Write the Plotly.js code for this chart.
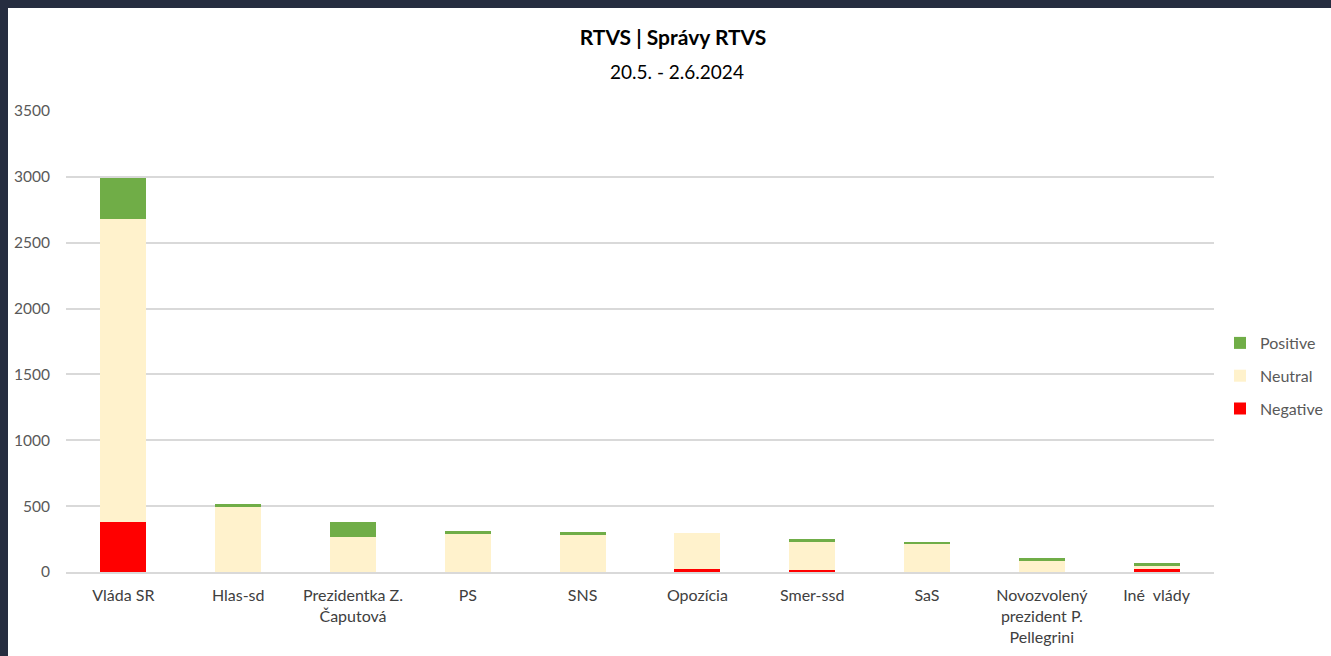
<!DOCTYPE html>
<html>
<head>
<meta charset="utf-8">
<script src="https://cdn.plot.ly/plotly-3.0.1.min.js"></script>
<style>
  html, body { margin: 0; padding: 0; background: #262d40; width: 1331px; height: 656px; overflow: hidden; }
  #chart { position: absolute; left: 8px; top: 8px; width: 1323px; height: 648px; background: #fff; }
</style>
</head>
<body>
<div id="chart"></div>
<script>
const categories = ["Vláda SR", "Hlas-sd", "Prezidentka Z.<br>Čaputová", "PS", "SNS", "Opozícia", "Smer-ssd", "SaS", "Novozvolený<br>prezident P.<br>Pellegrini", "Iné  vlády"];
const negative = [380, 0, 0, 0, 0, 24, 12, 0, 0, 25];
const neutral  = [2300, 495, 268, 290, 283, 270, 213, 215, 86, 18];
const positive = [310, 25, 110, 20, 18, 0, 23, 10, 23, 23];
const yTicks = [0, 500, 1000, 1500, 2000, 2500, 3000, 3500];

const font = "Lato, 'Open Sans', sans-serif";

const traces = [
  {name: "Negative", y: negative, color: "#ff0000", rank: 3},
  {name: "Neutral", y: neutral, color: "#fff2cc", rank: 2},
  {name: "Positive", y: positive, color: "#70ad47", rank: 1}
].map(t => ({
  type: "bar", x: categories, y: t.y, name: t.name, legendgroup: t.name, legendrank: t.rank,
  marker: {color: t.color, line: {width: 0}}, hoverinfo: "x+y+name"
}));

const layout = {
  barmode: "stack",
  bargap: 0.6,
  paper_bgcolor: "#ffffff",
  plot_bgcolor: "#ffffff",
  margin: {l: 58, r: 117, t: 103, b: 84},
  font: {family: font, color: "#404040"},
  title: {
    text: "<b>RTVS | Správy RTVS</b>",
    x: (673 - 8) / 1323, xref: "container", xanchor: "center",
    y: 1 - 30/648, yref: "container", yanchor: "middle",
    font: {size: 21, color: "#000000", family: font}
  },
  annotations: [{
    text: "20.5. - 2.6.2024", xref: "paper", yref: "paper",
    x: (677 - 66) / 1148, y: 1 + 39/461, xanchor: "center", yanchor: "middle",
    showarrow: false, font: {size: 19, color: "#000000", family: font}
  }],
  xaxis: {
    type: "category",
    showline: true, linecolor: "#d9d9d9", linewidth: 1.5,
    showgrid: false, ticks: "", ticklabelstandoff: 8,
    tickfont: {size: 16, color: "#404040", family: font},
    fixedrange: true
  },
  yaxis: {
    range: [0, 3500],
    tickvals: yTicks,
    ticktext: yTicks.map(String),
    showgrid: true, gridcolor: "#d9d9d9", gridwidth: 1.5,
    zeroline: false, showline: false, ticks: "", ticklabelstandoff: 15,
    tickfont: {size: 15.5, color: "#595959", family: font},
    fixedrange: true
  },
  legend: {
    xref: "container", yref: "container",
    x: (1220 - 8) / 1323, xanchor: "left", y: 1 - 368/648, yanchor: "middle",
    traceorder: "grouped", tracegroupgap: 9,
    font: {size: 16, color: "#595959", family: font},
    itemwidth: 30
  },
  showlegend: true
};

Plotly.newPlot("chart", traces, layout, {displayModeBar: false, responsive: false});
</script>
</body>
</html>
